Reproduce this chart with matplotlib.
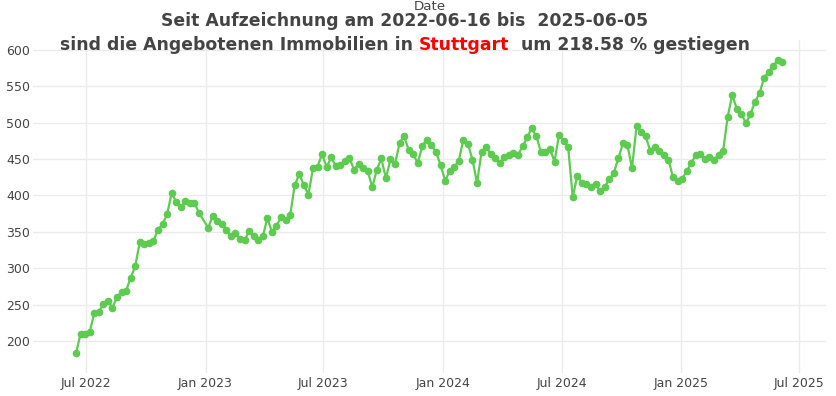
import numpy as np
import pandas as pd
import matplotlib
matplotlib.use("Agg")
import matplotlib.pyplot as plt
import matplotlib.dates as mdates

plt.rcParams["font.family"] = ["DejaVu Sans"]

# weekly listing counts, one week missing around new year 2023
start_date = "2022-06-16"
end_date = "2025-06-05"
missing_dates = ["2022-12-29"]
city = "Stuttgart"

values = [
    183.0, 209.6, 209.6, 212.0, 238.0, 240.0, 250.7, 255.0, 245.6, 260.0,
    267.5, 269.0, 287.0, 302.7, 336.0, 333.8, 334.7, 338.0, 353.0, 361.0,
    374.0, 403.7, 391.0, 384.0, 392.0, 390.0, 390.0, 376.0,
    355.7, 371.6, 364.4, 361.0, 352.0, 343.8, 348.9, 340.0, 338.4, 351.0,
    344.0, 338.8, 343.8, 369.0, 349.7, 358.0, 369.9, 365.8, 373.0, 414.0,
    429.7, 414.0, 401.0,
    437.4, 439.7, 457.0, 438.8, 452.5, 440.0, 441.5, 448.0, 451.6, 435.6,
    443.4, 437.9, 434.0, 411.4, 435.0, 451.0, 423.7, 449.7, 443.4, 472.0,
    481.7, 462.6, 457.0, 444.3, 468.5, 476.7, 469.0, 459.3, 442.0,
    420.5, 433.3, 438.8, 448.0, 476.7, 470.8, 449.3, 416.9, 460.3, 467.0,
    457.0, 451.6, 444.3, 452.5, 456.0, 458.4, 456.0, 467.5, 479.9, 492.7,
    481.2, 460.3, 460.3, 464.0, 446.6, 483.6, 475.3, 466.2, 397.7, 427.4,
    417.4, 416.0,
    411.4, 416.0, 406.0, 411.4, 422.0, 431.0, 451.0, 471.6, 469.4, 437.4,
    495.0, 487.7, 481.2, 461.6, 467.0, 461.6, 456.0, 449.3, 425.0, 419.2,
    422.9, 433.3, 444.3, 455.8, 457.0, 450.3, 453.4, 449.3, 456.0, 461.6,
    508.2, 538.4, 518.8, 512.0, 499.6, 512.0, 528.8, 540.7, 562.0, 569.9,
    578.0, 586.3, 583.0,
]

dates = pd.date_range(start_date, end_date, freq="7D")
dates = dates[~dates.isin(pd.to_datetime(missing_dates))]

GREEN = "#5ccb50"
TXT = "#444444"

fig = plt.figure(figsize=(8.36, 3.96), dpi=100)
W, H = 836, 396
ax = fig.add_axes([33 / W, 1 - 372.7 / H, (826 - 33) / W, (372.7 - 40.5) / H])

ax.plot(dates, values, color=GREEN, lw=1.6, marker="o", ms=4.5,
        mfc=GREEN, mec=GREEN, zorder=3)

ax.set_xlim(pd.Timestamp("2022-04-11"), pd.Timestamp("2025-08-11"))
ax.set_ylim(156.4, 613)
ax.xaxis.set_major_locator(mdates.MonthLocator(bymonth=[1, 7]))
ax.xaxis.set_major_formatter(mdates.DateFormatter("%b %Y"))
ax.set_yticks(range(200, 601, 50))
ax.grid(color="#ebebeb", lw=1)
ax.set_axisbelow(True)
for s in ax.spines.values():
    s.set_visible(False)
ax.tick_params(length=0, colors=TXT, labelsize=9)
ax.tick_params(axis="x", pad=3)
ax.tick_params(axis="y", pad=2)

# axis title sits on top, like the source
fig.text(429.5 / W, 1 - 9.5 / H, "Date", ha="center", va="baseline",
         fontsize=9.6, color=TXT)

pct = (values[-1] / values[0] - 1) * 100
line1 = f"Seit Aufzeichnung am {start_date} bis  {end_date}"
left = "sind die Angebotenen Immobilien in "
right = f"  um {pct:.2f} % gestiegen"
tkw = dict(fontsize=12.4, fontweight="bold", va="baseline")
cx = 405 / W

fig.text(cx, 1 - 26.5 / H, line1, ha="center", color=TXT, **tkw)

fig.canvas.draw()
r = fig.canvas.get_renderer()


def tw(s):
    t = fig.text(0, 0, s, **tkw)
    w = t.get_window_extent(r).width
    t.remove()
    return w / W


full = tw(left + city + right)
off_city = tw(left + city) - tw(city)
x0 = cx - full / 2
y2 = 1 - 49.5 / H
fig.text(x0, y2, left.rstrip(), ha="left", color=TXT, **tkw)
fig.text(x0 + off_city, y2, city, ha="left", color="red", **tkw)
fig.text(x0 + full - tw(right.strip()), y2, right.strip(), ha="left",
         color=TXT, **tkw)

fig.savefig("out.png", dpi=100)
